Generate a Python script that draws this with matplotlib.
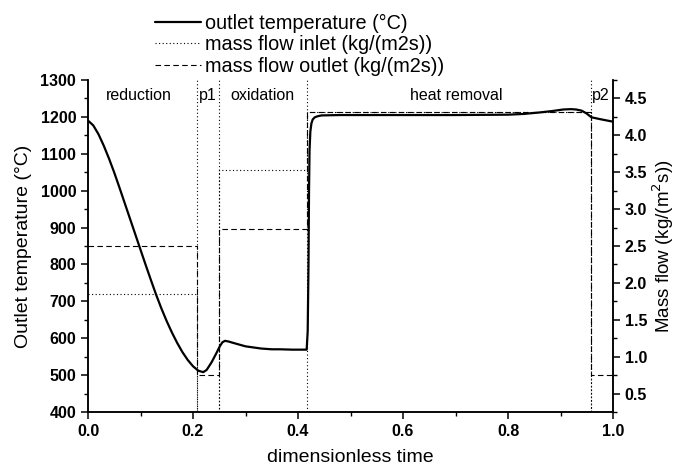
import matplotlib
matplotlib.use("Agg")
import matplotlib.pyplot as plt
from matplotlib.ticker import MultipleLocator, FormatStrFormatter

plt.rcParams['font.family'] = ['Liberation Sans', 'DejaVu Sans']

# ---- data ----
t_temp = [0.000, 0.010, 0.020, 0.030, 0.040, 0.050, 0.060, 0.070, 0.080, 0.090,
          0.100, 0.110, 0.120, 0.130, 0.140, 0.150, 0.160, 0.170, 0.180, 0.190,
          0.200, 0.210, 0.2195, 0.226, 0.2355, 0.244, 0.251, 0.256, 0.261, 0.268,
          0.275, 0.290, 0.300, 0.315, 0.330, 0.350, 0.365, 0.390, 0.4165,
          0.4185, 0.4200, 0.4210, 0.4220, 0.4235, 0.4255, 0.428, 0.432, 0.438,
          0.445, 0.480, 0.600, 0.700, 0.800, 0.830, 0.860, 0.885, 0.905, 0.920,
          0.930, 0.940, 0.949, 0.9588, 0.975, 1.000]
temp = [1190, 1177, 1153, 1122, 1087, 1049, 1008, 966, 924, 882,
        840, 798, 757, 717, 680, 646, 615, 587, 562, 541,
        524, 512, 508, 514, 535, 558, 578, 589, 593, 591,
        588, 582, 578, 575, 572, 570, 570, 569, 569,
        620, 800, 1000, 1110, 1160, 1182, 1193, 1199, 1202,
        1204, 1205, 1205, 1205, 1206, 1208, 1212, 1216, 1220, 1221,
        1220, 1217, 1210, 1199, 1194, 1187]

t_flow = [0.0, 0.208, 0.25, 0.4165, 0.958, 1.0]
flow_inlet = [1.85, 0.0, 3.525, 4.31, 0.0, 0.0]
flow_outlet = [2.50, 0.75, 2.735, 4.31, 0.75, 0.75]

phase_bounds = [0.208, 0.25, 0.4165, 0.958]
phase_names = ["reduction", "p1", "oxidation", "heat removal", "p2"]
phase_centers = [0.096, 0.229, 0.333, 0.702, 0.976]

x_ticks = [0.0, 0.2, 0.4, 0.6, 0.8, 1.0]
y2_ticks = [0.5, 1.0, 1.5, 2.0, 2.5, 3.0, 3.5, 4.0, 4.5]

# ---- figure ----
fig = plt.figure(figsize=(6.78, 4.69), dpi=100)
ax = fig.add_axes([88/678, 1-412/469, (613-88)/678, (412-80)/469])
ax2 = ax.twinx()

ax.set_xlim(0, 1)
ax.set_ylim(400, 1300)
ax2.set_ylim(0.25, 4.75)

for b in phase_bounds:
    ax.axvline(b, color='black', lw=0.8, dashes=(1, 2.2), zorder=1)

l_in, = ax2.plot(t_flow, flow_inlet, drawstyle='steps-post', color='black',
                 lw=0.8, dashes=(1, 2.2))
l_out, = ax2.plot(t_flow, flow_outlet, drawstyle='steps-post', color='black',
                  lw=0.8, dashes=(5, 3))
ax.set_zorder(ax2.get_zorder() + 1)
ax.patch.set_visible(False)
l_t, = ax.plot(t_temp, temp, color='black', lw=1.6, solid_capstyle='round',
               solid_joinstyle='round')

for name, c in zip(phase_names, phase_centers):
    ax.text(c, 1258, name, ha='center', va='center', fontsize=11.5)

# ticks
ax.set_xticks(x_ticks)
ax.xaxis.set_major_formatter(FormatStrFormatter('%.1f'))
ax.xaxis.set_minor_locator(MultipleLocator(0.1))
ax.yaxis.set_major_locator(MultipleLocator(100))
ax.yaxis.set_minor_locator(MultipleLocator(50))
ax2.set_yticks(y2_ticks)
ax2.yaxis.set_minor_locator(MultipleLocator(0.25))
ax2.yaxis.set_major_formatter(FormatStrFormatter('%.1f'))

for a in (ax, ax2):
    a.tick_params(which='major', direction='out', length=5, width=1.1, labelsize=11.5)
    a.tick_params(which='minor', direction='out', length=3, width=1.0)
    for lab in a.get_xticklabels() + a.get_yticklabels():
        lab.set_fontweight('bold')
    for s in a.spines.values():
        s.set_linewidth(1.1)
    a.spines['top'].set_visible(False)

ax.set_xlabel("dimensionless time", fontsize=14, labelpad=7)
ax.set_ylabel("Outlet temperature (°C)", fontsize=14, labelpad=6)
ax2.set_ylabel("Mass flow (kg/(m$^2$s))", fontsize=13.5, labelpad=2)

fig.legend([l_t, l_in, l_out],
           ["outlet temperature (°C)", "mass flow inlet (kg/(m2s))",
            "mass flow outlet (kg/(m2s))"],
           loc='upper left', bbox_to_anchor=(155/678, 1-14/469),
           frameon=False, fontsize=14.3, handlelength=2.3, handletextpad=0.2,
           labelspacing=0.12, borderpad=0, borderaxespad=0)

fig.savefig("out.png", dpi=100)
